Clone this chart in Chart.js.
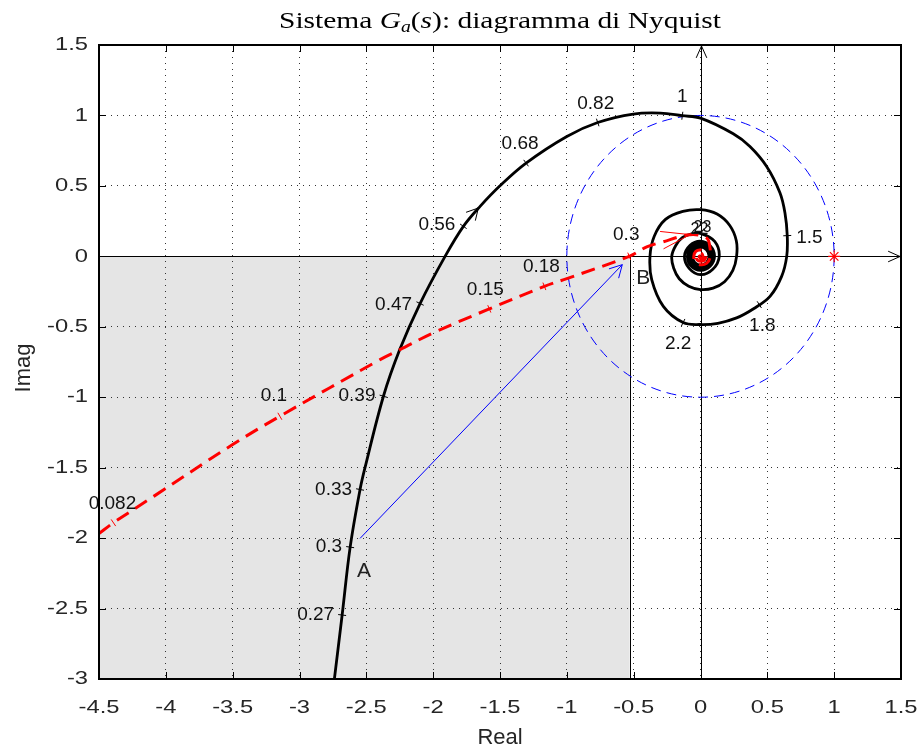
<!DOCTYPE html>
<html>
<head>
<meta charset="utf-8">
<script src="https://cdn.jsdelivr.net/npm/chart.js@4.4.0/dist/chart.umd.min.js"></script>
<style>
  html, body { margin: 0; padding: 0; background: #fff; }
</style>
</head>
<body>
<canvas id="nyquist" width="917" height="751"></canvas>
<script>
// axis ranges
const xMin = -4.5, xMax = 1.5, yMin = -3, yMax = 1.5;
const tickStep = 0.5;

// G_a(jw) - black solid curve
const blackX = [-2.739, -2.681, -2.621, -2.547, -2.51, -2.372, -2.25, -2.098, -1.911, -1.774, -1.649, -1.5, -1.305, -1.0, -0.769, -0.503, -0.3, -0.136, 0,
  0.245, 0.37, 0.495, 0.595, 0.632, 0.649, 0.645, 0.607, 0.52, 0.4, 0.27, 0.13, 0, -0.13, -0.278, -0.365, -0.378, -0.346, -0.262, -0.132,
  0, 0.124, 0.219, 0.268, 0.27, 0.242, 0.18, 0.094, 0, -0.088, -0.159, -0.201, -0.215, -0.185, -0.134, -0.066,
  0, 0.106, 0.14, 0.092, 0, -0.085, -0.12, -0.078,
  0, 0.074, 0.105, 0.072, 0, -0.07, -0.098, -0.067,
  0, 0.063, 0.09, 0.061, 0, -0.06, -0.083, -0.057,
  0, 0.054, 0.076, 0.052, 0, -0.05, -0.07, -0.048,
  0, 0.045, 0.064, 0.044, 0, -0.043, -0.06, -0.041, 0];
const blackY = [-3.0, -2.546, -2.064, -1.655, -1.5, -0.993, -0.662, -0.335, 0, 0.213, 0.355, 0.501, 0.662, 0.851, 0.950, 1.01, 1.017, 0.998, 0.981,
  0.87, 0.78, 0.638, 0.45, 0.308, 0.147, 0, -0.142, -0.284, -0.37, -0.437, -0.475, -0.484, -0.47, -0.355, -0.165, 0, 0.143, 0.262, 0.319,
  0.331, 0.3, 0.219, 0.111, 0, -0.1, -0.18, -0.226, -0.236, -0.212, -0.159, -0.083, 0, 0.077, 0.134, 0.159,
  0.163, 0.106, 0, -0.092, -0.13, -0.085, 0, 0.078,
  0.108, 0.074, 0, -0.071, -0.1, -0.069, 0, 0.068,
  0.094, 0.064, 0, -0.062, -0.087, -0.059, 0, 0.058,
  0.08, 0.055, 0, -0.053, -0.074, -0.051, 0, 0.049,
  0.068, 0.046, 0, -0.045, -0.063, -0.043, 0, 0.042, 0.058];

// red dashed curve
const redX = [-4.5, -4.392, -4.088, -3.5, -3.147, -2.397, -2.248, -1.999, -1.58, -1.168, -1.0, -0.533, -0.402, -0.29, -0.079,
  0.046, 0.071, 0.071, 0.045, 0, -0.04, -0.05, -0.035, 0, 0.03, 0.04, 0.028, 0, -0.025, -0.03, -0.02, 0, 0.015, 0.015, 0, -0.01, 0];
const redY = [-1.967, -1.891, -1.702, -1.336, -1.135, -0.733, -0.662, -0.543, -0.373, -0.213, -0.158, 0, 0.067, 0.1, 0.154,
  0.13, 0.06, -0.01, -0.05, -0.06, -0.04, 0, 0.035, 0.045, 0.03, 0, -0.028, -0.035, -0.025, 0, 0.02, 0.025, 0.01, -0.01, -0.015, 0, 0.005];

// frequency marks
const blackW = ['0.27', '0.3', '0.33', '0.39', '0.47', '0.56', '0.68', '0.82', '1', '1.5', '1.8', '2.2'];
const blackWX = [-2.681, -2.621, -2.547, -2.372, -2.098, -1.774, -1.305, -0.769, -0.136, 0.649, 0.44, -0.13];
const blackWY = [-2.546, -2.064, -1.655, -0.993, -0.335, 0.213, 0.662, 0.950, 0.998, 0.147, -0.343, -0.47];
const redW = ['0.082', '0.1', '0.15', '0.18', '0.3'];
const redWX = [-4.392, -3.147, -1.58, -1.168, -0.533];
const redWY = [-1.891, -1.135, -0.373, -0.213, 0];
const innerW = ['22', '23'];

// direction arrows on the curves
const blackArrow = [-1.662, 0.343];
const redArrow = [-0.079, 0.154];

// vector A -> B
const vecX = [-2.547, -0.585];
const vecY = [-2.002, -0.059];
const vecNames = ['A', 'B'];

// shaded region, unit circle, critical point
const regionX = [-4.5, -0.53];
const regionY = [-3, 0];
const circleR = 1;
const starX = [1];
const starY = [0];

const pts = (xs, ys) => xs.map((x, i) => ({ x: x, y: ys[i] }));

// layout/styles for the labels (not data)
const blackPlace = [['l', 0, 0], ['l', 0, 0], ['l', 0, 0], ['l', 0, 0], ['l', 0, 1], ['l', 0, -2], ['a', -6, 0], ['a', -2, 0], ['a', 0, 0], ['r', 0, 2], ['b', 3, 0], ['b', -5, 0]];
const redPlace = [['a', -1, 0], ['a', -6, -1], ['a', -4, 0], ['a', -3, -1], ['a', -3, -3]];
const labelFont = '19px "Liberation Sans", Arial, sans-serif';
const tickFont = '19px "Liberation Sans", Arial, sans-serif';
const textCol = '#262626';

function openHead(ctx, tx, ty, ang, len, half) {
  ctx.beginPath();
  ctx.moveTo(tx - len * Math.cos(ang - half), ty - len * Math.sin(ang - half));
  ctx.lineTo(tx, ty);
  ctx.lineTo(tx - len * Math.cos(ang + half), ty - len * Math.sin(ang + half));
  ctx.stroke();
}

// tangent angle (pixels) of a curve near a data point
function tangentAt(xs, ys, sx, sy, x, y) {
  let best = 0, bd = Infinity;
  for (let i = 0; i < xs.length; i++) {
    let d = (sx.getPixelForValue(xs[i]) - sx.getPixelForValue(x)) ** 2 + (sy.getPixelForValue(ys[i]) - sy.getPixelForValue(y)) ** 2;
    if (d < bd) { bd = d; best = i; }
  }
  let a = Math.max(best - 1, 0), b = Math.min(best + 1, xs.length - 1);
  return Math.atan2(sy.getPixelForValue(ys[b]) - sy.getPixelForValue(ys[a]), sx.getPixelForValue(xs[b]) - sx.getPixelForValue(xs[a]));
}

function freqMarks(ctx, sx, sy, xs, ys, names, wx, wy, place, col) {
  ctx.font = labelFont;
  for (let i = 0; i < names.length; i++) {
    let px = sx.getPixelForValue(wx[i]), py = sy.getPixelForValue(wy[i]);
    let t = tangentAt(xs, ys, sx, sy, wx[i], wy[i]);
    let nx = -Math.sin(t), ny = Math.cos(t);
    ctx.strokeStyle = col;
    ctx.lineWidth = 1;
    ctx.beginPath();
    ctx.moveTo(px - 4 * nx, py - 4 * ny);
    ctx.lineTo(px + 4 * nx, py + 4 * ny);
    ctx.stroke();
    let p = place[i];
    ctx.fillStyle = '#111';
    ctx.textBaseline = 'middle';
    if (p[0] == 'l') { ctx.textAlign = 'right'; ctx.fillText(names[i], px - 8 + p[1], py + p[2]); }
    if (p[0] == 'r') { ctx.textAlign = 'left'; ctx.fillText(names[i], px + 9 + p[1], py + p[2]); }
    if (p[0] == 'a') { ctx.textAlign = 'center'; ctx.fillText(names[i], px + p[1], py - 19 + p[2]); }
    if (p[0] == 'b') { ctx.textAlign = 'center'; ctx.fillText(names[i], px + p[1], py + 21 + p[2]); }
  }
}

const nyquistDecor = {
  id: 'nyquistDecor',
  beforeDraw(chart) {
    const ctx = chart.ctx, sx = chart.scales.x, sy = chart.scales.y;
    let x0 = sx.getPixelForValue(regionX[0]), x1 = sx.getPixelForValue(regionX[1]);
    let y0 = sy.getPixelForValue(regionY[1]), y1 = sy.getPixelForValue(regionY[0]);
    ctx.save();
    ctx.fillStyle = '#e5e5e5';
    ctx.fillRect(x0, y0, x1 - x0, y1 - y0);
    ctx.restore();
  },
  beforeDatasetsDraw(chart) {
    const ctx = chart.ctx, sx = chart.scales.x, sy = chart.scales.y, a = chart.chartArea;
    ctx.save();
    // right edge of the shaded box
    let xr = Math.round(sx.getPixelForValue(regionX[1])) + 0.5;
    ctx.strokeStyle = '#000';
    ctx.lineWidth = 1;
    ctx.beginPath();
    ctx.moveTo(xr, sy.getPixelForValue(regionY[1]));
    ctx.lineTo(xr, sy.getPixelForValue(regionY[0]));
    ctx.stroke();
    // real / imaginary axes
    let ox = Math.round(sx.getPixelForValue(0)) + 0.5, oy = Math.round(sy.getPixelForValue(0)) + 0.5;
    ctx.beginPath();
    ctx.moveTo(a.left, oy); ctx.lineTo(a.right, oy);
    ctx.moveTo(ox, a.bottom); ctx.lineTo(ox, a.top);
    ctx.stroke();
    openHead(ctx, ox, a.top + 1, -Math.PI / 2, 13, 0.42);
    openHead(ctx, a.right - 1, oy, 0, 13, 0.42);
    // unit circle
    ctx.beginPath();
    ctx.rect(a.left, a.top, a.right - a.left, a.bottom - a.top);
    ctx.clip();
    ctx.strokeStyle = '#0000ff';
    ctx.setLineDash([10, 6]);
    ctx.beginPath();
    ctx.ellipse(sx.getPixelForValue(0), sy.getPixelForValue(0),
      Math.abs(sx.getPixelForValue(circleR) - sx.getPixelForValue(0)),
      Math.abs(sy.getPixelForValue(circleR) - sy.getPixelForValue(0)), 0, 0, 2 * Math.PI);
    ctx.stroke();
    ctx.restore();
  },
  afterDatasetsDraw(chart) {
    const ctx = chart.ctx, sx = chart.scales.x, sy = chart.scales.y, a = chart.chartArea;
    ctx.save();
    freqMarks(ctx, sx, sy, blackX, blackY, blackW, blackWX, blackWY, blackPlace, '#000');
    freqMarks(ctx, sx, sy, redX, redY, redW, redWX, redWY, redPlace, '#ff0000');
    // overlapping labels on the inner loops
    let cx = sx.getPixelForValue(0), cy = sy.getPixelForValue(0.163);
    ctx.font = '16px "Liberation Sans", Arial, sans-serif';
    ctx.textAlign = 'center';
    ctx.fillStyle = '#111';
    ctx.fillText(innerW[0], cx - 1, cy - 4);
    ctx.fillText(innerW[1], cx + 2, cy - 6);
    // direction arrows
    ctx.lineWidth = 1;
    ctx.strokeStyle = '#000';
    let t = tangentAt(blackX, blackY, sx, sy, blackArrow[0], blackArrow[1]);
    openHead(ctx, sx.getPixelForValue(blackArrow[0]), sy.getPixelForValue(blackArrow[1]), t, 13, 0.5);
    ctx.strokeStyle = '#ff0000';
    t = tangentAt(redX, redY, sx, sy, redArrow[0], redArrow[1]);
    openHead(ctx, sx.getPixelForValue(redArrow[0]), sy.getPixelForValue(redArrow[1]), t - 0.1, 30, 0.3);
    // vector head and names
    ctx.strokeStyle = '#0000ff';
    let bx = sx.getPixelForValue(vecX[1]), by = sy.getPixelForValue(vecY[1]);
    let ax = sx.getPixelForValue(vecX[0]), ay = sy.getPixelForValue(vecY[0]);
    openHead(ctx, bx, by, Math.atan2(by - ay, bx - ax), 14, 0.5);
    ctx.font = '21px "Liberation Sans", Arial, sans-serif';
    ctx.fillStyle = '#222';
    ctx.textBaseline = 'middle';
    ctx.fillText(vecNames[0], ax + 4, ay + 33);
    ctx.fillText(vecNames[1], bx + 21, by + 14);
    ctx.restore();
  },
  afterDraw(chart) {
    const ctx = chart.ctx, sx = chart.scales.x, sy = chart.scales.y, a = chart.chartArea;
    ctx.save();
    // inward ticks
    ctx.strokeStyle = '#000';
    ctx.lineWidth = 1;
    ctx.beginPath();
    for (let v = xMin; v <= xMax + 1e-9; v += tickStep) {
      let x = Math.round(sx.getPixelForValue(v)) + 0.5;
      ctx.moveTo(x, a.bottom); ctx.lineTo(x, a.bottom - 7);
      ctx.moveTo(x, a.top); ctx.lineTo(x, a.top + 7);
    }
    for (let v = yMin; v <= yMax + 1e-9; v += tickStep) {
      let y = Math.round(sy.getPixelForValue(v)) + 0.5;
      ctx.moveTo(a.left, y); ctx.lineTo(a.left + 7, y);
      ctx.moveTo(a.right, y); ctx.lineTo(a.right - 7, y);
    }
    ctx.stroke();
    // frame
    ctx.lineWidth = 2;
    ctx.strokeRect(a.left, a.top, a.right - a.left, a.bottom - a.top);
    // tick labels, slightly wide as in the original export
    ctx.font = tickFont;
    ctx.fillStyle = textCol;
    ctx.textBaseline = 'middle';
    for (let v = xMin; v <= xMax + 1e-9; v += tickStep) {
      let s = String(Math.round(v * 10) / 10);
      ctx.save();
      ctx.translate(sx.getPixelForValue(v), a.bottom + 29);
      ctx.scale(1.25, 1);
      ctx.textAlign = 'center';
      ctx.fillText(s, 0, 0);
      ctx.restore();
    }
    for (let v = yMin; v <= yMax + 1e-9; v += tickStep) {
      let s = String(Math.round(v * 10) / 10);
      ctx.save();
      ctx.translate(a.left - 11, sy.getPixelForValue(v));
      ctx.scale(1.25, 1);
      ctx.textAlign = 'right';
      ctx.fillText(s, 0, 0);
      ctx.restore();
    }
    // axis titles
    ctx.font = '22px "Liberation Sans", Arial, sans-serif';
    ctx.textAlign = 'center';
    ctx.fillText('Real', (a.left + a.right) / 2, 738);
    ctx.save();
    ctx.translate(24, 368);
    ctx.rotate(-Math.PI / 2);
    ctx.fillText('Imag', 0, 0);
    ctx.restore();
    // title: Sistema G_a(s): diagramma di Nyquist
    const parts = [['Sistema ', '', 24, 0], ['G', 'italic ', 24, 0], ['a', 'italic ', 16, 4], ['(', '', 24, 0], ['s', 'italic ', 24, 0], ['): diagramma di Nyquist', '', 24, 0]];
    let w = 0;
    parts.forEach(p => { ctx.font = p[1] + p[2] + 'px "Liberation Serif", "DejaVu Serif", serif'; w += ctx.measureText(p[0]).width; });
    let target = 442, k = target / w;
    ctx.save();
    ctx.translate((a.left + a.right) / 2 - target / 2, 28);
    ctx.scale(k, 1);
    ctx.textAlign = 'left';
    ctx.textBaseline = 'alphabetic';
    ctx.fillStyle = '#000';
    let x = 0;
    parts.forEach(p => {
      ctx.font = p[1] + p[2] + 'px "Liberation Serif", "DejaVu Serif", serif';
      ctx.fillText(p[0], x, p[3]);
      x += ctx.measureText(p[0]).width;
    });
    ctx.restore();
    ctx.restore();
  }
};

new Chart(document.getElementById('nyquist'), {
  type: 'scatter',
  data: {
    datasets: [{
      label: 'red',
      data: pts(redX, redY),
      showLine: true,
      borderColor: '#ff0000',
      borderWidth: 3,
      borderDash: [14, 8],
      pointRadius: 0,
      tension: 0.36
    }, {
      label: 'Ga',
      data: pts(blackX, blackY),
      showLine: true,
      borderColor: '#000',
      borderWidth: 2.8,
      pointRadius: 0,
      tension: 0.36
    }, {
      label: 'AB',
      data: pts(vecX, vecY),
      showLine: true,
      borderColor: '#0000ff',
      borderWidth: 1,
      pointRadius: 0
    }, {
      label: 'critical',
      data: pts(starX, starY),
      pointStyle: 'star',
      pointRadius: 6,
      borderColor: '#ff0000',
      borderWidth: 1.2
    }]
  },
  options: {
    responsive: false,
    animation: false,
    layout: { padding: { top: 45, right: 16, left: 0, bottom: 0 } },
    plugins: { legend: { display: false }, tooltip: { enabled: false } },
    scales: {
      x: {
        type: 'linear', min: xMin, max: xMax,
        ticks: { stepSize: tickStep, display: false },
        grid: { color: '#333', lineWidth: 1, drawTicks: false },
        border: { display: false, dash: [1, 5] },
        afterFit(s) { s.height = 72; }
      },
      y: {
        type: 'linear', min: yMin, max: yMax,
        ticks: { stepSize: tickStep, display: false },
        grid: { color: '#333', lineWidth: 1, drawTicks: false },
        border: { display: false, dash: [1, 5] },
        afterFit(s) { s.width = 99; }
      }
    }
  },
  plugins: [nyquistDecor]
});
</script>
</body>
</html>
